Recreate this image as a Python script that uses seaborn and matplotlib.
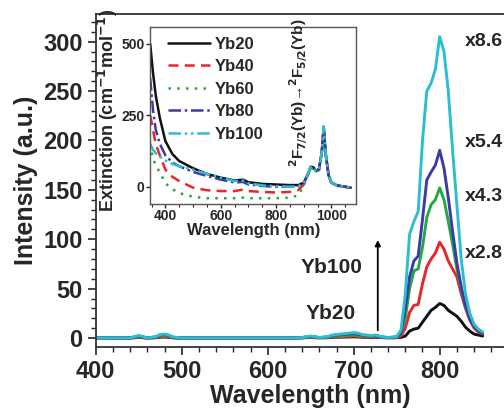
import pandas as pd
import numpy as np
import matplotlib
matplotlib.use("Agg")
import matplotlib.pyplot as plt
from matplotlib.ticker import AutoMinorLocator, MultipleLocator
import seaborn as sns

# emission spectra (main plot)
wl = [400, 440, 445, 450, 455, 460, 470, 475, 480, 485, 490, 500,
      630, 640, 645, 650, 655, 660, 670, 675, 680, 690, 700, 705, 710,
      720, 725, 730, 735, 740, 750, 755, 760, 765, 770, 775, 780, 785,
      790, 795, 800, 805, 810, 815, 820, 825, 830, 835, 840, 845, 850]

yb20 = [0, 0, 0.3, 0.5, 0.3, 0, 0.3, 0.8, 1, 0.6, 0.2, 0,
        0, 0.2, 0.4, 0.5, 0.3, 0.2, 0.3, 0.6, 0.8, 1, 1.2, 1, 0.8,
        0.6, 0.7, 0.5, 0.3, 0.2, 0.3, 0.6, 2, 7, 9, 10, 16, 22,
        28, 31, 35, 33, 28, 25, 22, 17, 11, 7, 4, 3, 2]
yb40 = [0, 0, 0.5, 0.8, 0.5, 0, 0.5, 1.2, 1.5, 1, 0.3, 0,
        0, 0.3, 0.6, 0.8, 0.5, 0.3, 0.5, 1, 1.2, 1.5, 2, 1.6, 1.2,
        1, 1.1, 0.8, 0.5, 0.3, 0.5, 2, 10, 26, 33, 34, 55, 72,
        80, 86, 97, 90, 78, 70, 62, 45, 30, 18, 10, 6, 4]
yb60 = [0, 0, 0.8, 1.2, 0.8, 0, 0.8, 2, 2.5, 1.6, 0.5, 0,
        0, 0.3, 0.8, 1.1, 0.8, 0.3, 0.8, 1.6, 2, 2.5, 3, 2.6, 2,
        1.5, 1.7, 1.2, 0.7, 0.4, 0.8, 4, 20, 50, 68, 70, 92, 122,
        135, 140, 152, 140, 118, 95, 70, 50, 32, 20, 12, 7, 5]
yb80 = [0, 0, 1.2, 2, 1.2, 0, 1.2, 3, 3.5, 2.5, 0.8, 0,
        0, 0.4, 1.2, 1.6, 1.2, 0.4, 1.2, 2.5, 3, 3.8, 4.5, 4, 3,
        2, 2.4, 1.6, 0.8, 0.4, 1, 5, 30, 62, 78, 83, 120, 160,
        168, 175, 190, 172, 142, 108, 76, 52, 33, 20, 12, 7, 5]
yb100 = [0, 0, 1.5, 2.5, 1.5, 0, 1.5, 3.5, 4, 3, 1, 0,
         0, 0.5, 1.5, 2, 1.5, 0.5, 1.5, 3, 3.5, 4.5, 5.5, 5, 3.5,
         2.5, 3, 2, 1, 0.5, 1.5, 8, 45, 105, 118, 128, 200, 250,
         258, 272, 305, 290, 250, 190, 135, 80, 45, 25, 14, 9, 6]

# extinction spectra (inset)
ext_wl = [345, 355, 365, 380, 400, 425, 450, 500, 550, 600, 650, 680, 700,
          750, 800, 850, 880, 900, 915, 925, 935, 945, 955, 965, 972, 980,
          990, 1000, 1020, 1050, 1070]
ext20 = [500, 400, 320, 240, 160, 115, 90, 65, 45, 32, 22, 25, 16,
         10, 8, 6, 6, 14, 45, 70, 68, 55, 62, 120, 210, 110, 40, 15, 5, 0, -3]
ext40 = [250, 200, 150, 110, 60, 35, 20, -3, -12, -15, -15, -10, -15,
         -18, -20, -18, -12, 8, 42, 68, 64, 55, 60, 118, 205, 108, 38, 14, 4, 0, -3]
ext60 = [150, 100, 75, 50, 12, -8, -22, -35, -40, -40, -40, -38, -40,
         -40, -40, -38, -30, 5, 40, 66, 62, 53, 58, 115, 205, 105, 36, 12, 3, -1, -3]
ext80 = [380, 270, 200, 150, 110, 85, 72, 52, 38, 25, 15, 17, 8,
         3, 0, 0, 2, 12, 45, 70, 66, 55, 62, 120, 210, 110, 40, 15, 5, 0, -3]
ext100 = [150, 130, 118, 105, 92, 80, 72, 60, 45, 32, 20, 22, 12,
          5, 2, 0, 2, 12, 45, 70, 66, 55, 62, 120, 210, 110, 40, 15, 5, 0, -3]

samples = ["Yb20", "Yb40", "Yb60", "Yb80", "Yb100"]
colors = ["#111111", "#e8262b", "#22a845", "#3b3ba6", "#2bbdd0"]
factors = ["x2.8", "x4.3", "x5.4", "x8.6"]

sns.set_style("ticks")
plt.rcParams["font.family"] = ["Liberation Sans", "DejaVu Sans"]
plt.rcParams["font.weight"] = "bold"

palette = dict(zip(samples, colors))

em = pd.DataFrame({
    "wl": wl * 5,
    "I": yb20 + yb40 + yb60 + yb80 + yb100,
    "sample": [s for s in samples for _ in wl],
})
ext = pd.DataFrame({
    "wl": ext_wl * 5,
    "E": ext20 + ext40 + ext60 + ext80 + ext100,
    "sample": [s for s in samples for _ in ext_wl],
})

fig = plt.figure(figsize=(5.04, 4.12), dpi=100)
ax = fig.add_axes([0.19, 0.158, 0.853, 0.808])

sns.lineplot(data=em, x="wl", y="I", hue="sample", palette=palette,
             linewidth=2.1, legend=False, ax=ax)
ax.set_xlim(400, 900)
ax.set_ylim(-9, 328)
ax.set_xticks([400, 500, 600, 700, 800])
ax.xaxis.set_minor_locator(AutoMinorLocator(5))
ax.yaxis.set_major_locator(MultipleLocator(50))
ax.yaxis.set_minor_locator(AutoMinorLocator(5))
ax.tick_params(which="major", direction="out", length=6, width=1.2, labelsize=17)
ax.tick_params(which="minor", direction="out", length=3.5, width=1)
for lab in ax.get_xticklabels() + ax.get_yticklabels():
    lab.set_fontweight("bold")
for sp in ax.spines.values():
    sp.set_linewidth(1.3)
    sp.set_color("#333333")
ax.set_xlabel("Wavelength (nm)", fontsize=18, fontweight="bold", labelpad=1)
ax.set_ylabel("Intensity (a.u.)", fontsize=18, fontweight="bold", labelpad=4)

# factor labels next to the peaks
for txt, yv in zip(factors, [86, 143, 198, 300]):
    ax.text(829, yv, txt, fontsize=14, fontweight="bold", va="center", ha="left")
ax.text(674, 71, "Yb100", fontsize=15, fontweight="bold", ha="center", va="center")
ax.text(673, 25, "Yb20", fontsize=15, fontweight="bold", ha="center", va="center")
ax.annotate("", xy=(728, 102), xytext=(728, 5),
            arrowprops=dict(arrowstyle="-|>", color="black", lw=1.3,
                            mutation_scale=8))

# inset: extinction spectra
ins = fig.add_axes([0.298, 0.505, 0.409, 0.43])
dashes = {"Yb20": "", "Yb40": (4, 2.5), "Yb60": (1, 2.5),
          "Yb80": (5, 1.5, 1, 1.5), "Yb100": (5, 1.5, 1, 1.5, 1, 1.5)}
sns.lineplot(data=ext, x="wl", y="E", hue="sample", style="sample",
             palette=palette, dashes=dashes, linewidth=1.8, ax=ins)
ins.set_xlim(345, 1090)
ins.set_ylim(-60, 560)
ins.xaxis.set_major_locator(MultipleLocator(200))
ins.xaxis.set_minor_locator(AutoMinorLocator(4))
ins.set_yticks([0, 250, 500])
ins.tick_params(which="major", direction="out", length=3, width=1, labelsize=10, pad=1)
ins.tick_params(which="minor", direction="out", length=2, width=0.8)
for lab in ins.get_xticklabels() + ins.get_yticklabels():
    lab.set_fontweight("bold")
for sp in ins.spines.values():
    sp.set_linewidth(1)
    sp.set_color("#555555")
ins.set_xlabel("Wavelength (nm)", fontsize=12, fontweight="bold", labelpad=0)
ins.set_ylabel("Extinction (cm$^{\\mathbf{-1}}$mol$^{\\mathbf{-1}}$)",
               fontsize=13, fontweight="bold")
ins.yaxis.set_label_coords(-0.145, 0.525)
ins.text(880, 68, "$^{\\mathbf{2}}$F$_{\\mathbf{7/2}}$(Yb)\u2192$^{\\mathbf{2}}$F$_{\\mathbf{5/2}}$(Yb)",
         rotation=90, fontsize=11, fontweight="bold", ha="center", va="bottom")
handles, labels = ins.get_legend_handles_labels()
leg = ins.legend(handles, labels, loc="upper left", bbox_to_anchor=(0.04, 1.0),
                 frameon=False, fontsize=12, handlelength=2.5, handletextpad=0.3,
                 labelspacing=0.45, borderaxespad=0.2)
for t in leg.get_texts():
    t.set_fontweight("bold")
for h in leg.get_lines():
    h.set_linewidth(1.8)

fig.savefig("out.png", dpi=100)
